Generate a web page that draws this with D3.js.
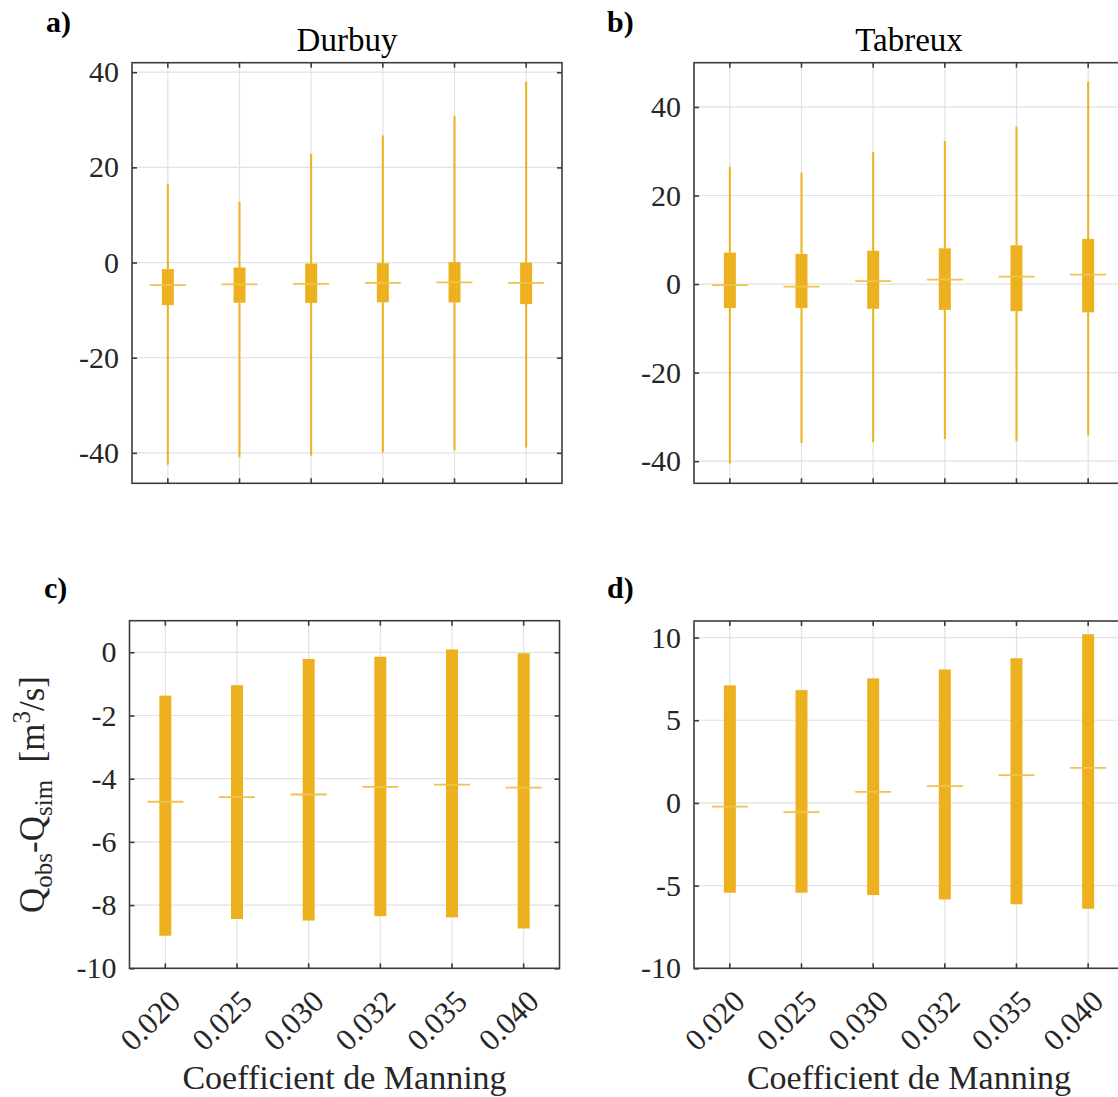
<!DOCTYPE html>
<html><head><meta charset="utf-8">
<script src="https://cdn.jsdelivr.net/npm/d3@7"></script>
<style>
body{margin:0;background:#fff}
svg{display:block}
text{font-family:'Liberation Serif','Times New Roman',serif;fill:#262626}
</style>
</head><body>
<svg id="chart" width="1118" height="1097"></svg>
<script>
// ---------- data ----------
const categories = ["0.020","0.025","0.030","0.032","0.035","0.040"];

const durbuyWhiskerHigh = [16.6, 12.8, 22.8, 26.7, 30.8, 38.0];
const durbuyQ3          = [-1.37, -1.04, -0.21, -0.14, 0.09, -0.03];
const durbuyMedian      = [-4.73, -4.58, -4.50, -4.26, -4.19, -4.28];
const durbuyQ1          = [-8.97, -8.44, -8.49, -8.35, -8.39, -8.74];
const durbuyWhiskerLow  = [-42.5, -40.9, -40.6, -39.9, -39.5, -38.9];

const tabreuxWhiskerHigh = [26.5, 25.2, 29.8, 32.3, 35.6, 45.7];
const tabreuxQ3          = [7.11, 6.82, 7.53, 8.07, 8.75, 10.2];
const tabreuxMedian      = [-0.23, -0.56, 0.67, 1.02, 1.68, 2.12];
const tabreuxQ1          = [-5.43, -5.43, -5.57, -5.84, -6.13, -6.40];
const tabreuxWhiskerLow  = [-40.5, -35.9, -35.7, -35.0, -35.5, -34.2];

const yTicksA = [-40, -20, 0, 20, 40];
const yTicksB = [-40, -20, 0, 20, 40];
const yTicksC = [-10, -8, -6, -4, -2, 0];
const yTicksD = [-10, -5, 0, 5, 10];

const panelLabels = ["a)", "b)", "c)", "d)"];
const titles = ["Durbuy", "Tabreux"];
const xAxisLabel = "Coefficient de Manning";

// ---------- build series ----------
function series(lo, q1, med, q3, hi) {
  return categories.map((c, i) => ({cat: c, lo: lo[i], q1: q1[i], med: med[i], q3: q3[i], hi: hi[i]}));
}
const durbuy = series(durbuyWhiskerLow, durbuyQ1, durbuyMedian, durbuyQ3, durbuyWhiskerHigh);
const tabreux = series(tabreuxWhiskerLow, tabreuxQ1, tabreuxMedian, tabreuxQ3, tabreuxWhiskerHigh);

const COLOR = "#EDB120";
const MEDCOLOR = "#F2C14C";
const FONT = "'Liberation Serif','Times New Roman',serif";

const panels = [
  {label: panelLabels[0], lx: 46, ly: 32, title: titles[0], left: 132, top: 62.7, bottom: 483.3, domain: [-46.4, 42], ticks: yTicksA, data: durbuy, whiskers: true, xLabels: false},
  {label: panelLabels[1], lx: 607, ly: 32, title: titles[1], left: 694, top: 62.7, bottom: 483.3, domain: [-45, 50], ticks: yTicksB, data: tabreux, whiskers: true, xLabels: false},
  {label: panelLabels[2], lx: 44, ly: 598, title: null, left: 129.5, top: 620.7, bottom: 968.3, domain: [-10, 1], ticks: yTicksC, data: durbuy, whiskers: false, xLabels: true, yLabel: true},
  {label: panelLabels[3], lx: 607, ly: 598, title: null, left: 694, top: 621, bottom: 968.3, domain: [-10, 11], ticks: yTicksD, data: tabreux, whiskers: false, xLabels: true}
];
const W = 430;

const svg = d3.select("#chart");

panels.forEach((p, pi) => {
  const x = d3.scaleBand().domain(categories).range([p.left, p.left + W]).padding(0);
  const cx = d => x(d) + x.bandwidth() / 2;
  const y = d3.scaleLinear().domain(p.domain).range([p.bottom, p.top]);
  const g = svg.append("g");

  const clipId = "clip" + pi;
  svg.append("defs").append("clipPath").attr("id", clipId)
    .append("rect").attr("x", p.left).attr("y", p.top).attr("width", W).attr("height", p.bottom - p.top);

  // grid
  const grid = g.append("g").attr("clip-path", `url(#${clipId})`);
  grid.selectAll("line.gx").data(categories).join("line")
    .attr("x1", d => cx(d)).attr("x2", d => cx(d))
    .attr("y1", p.top).attr("y2", p.bottom)
    .attr("stroke", "#e2e2e2").attr("stroke-width", 1.2);
  grid.selectAll("line.gy").data(p.ticks).join("line")
    .attr("x1", p.left).attr("x2", p.left + W)
    .attr("y1", d => y(d)).attr("y2", d => y(d))
    .attr("stroke", "#e2e2e2").attr("stroke-width", 1.2);

  // marks
  const marks = g.append("g").attr("clip-path", `url(#${clipId})`);
  if (p.whiskers) {
    marks.selectAll("line.wh").data(p.data).join("line")
      .attr("x1", d => cx(d.cat)).attr("x2", d => cx(d.cat))
      .attr("y1", d => y(d.hi)).attr("y2", d => y(d.q3))
      .attr("stroke", COLOR).attr("stroke-width", 2);
    marks.selectAll("line.wl").data(p.data).join("line")
      .attr("x1", d => cx(d.cat)).attr("x2", d => cx(d.cat))
      .attr("y1", d => y(d.q1)).attr("y2", d => y(d.lo))
      .attr("stroke", COLOR).attr("stroke-width", 2);
  }
  marks.selectAll("rect.box").data(p.data).join("rect")
    .attr("x", d => cx(d.cat) - 6).attr("width", 12)
    .attr("y", d => y(d.q3)).attr("height", d => y(d.q1) - y(d.q3))
    .attr("fill", COLOR);
  marks.selectAll("line.med").data(p.data).join("line")
    .attr("x1", d => cx(d.cat) - 18).attr("x2", d => cx(d.cat) + 18)
    .attr("y1", d => y(d.med)).attr("y2", d => y(d.med))
    .attr("stroke", MEDCOLOR).attr("stroke-width", 1.8);

  // axes (ticks inside, mirrored)
  const axL = d3.axisLeft(y).tickValues(p.ticks).tickSize(-5).tickPadding(13).tickFormat(d => String(d));
  const axR = d3.axisRight(y).tickValues(p.ticks).tickSize(-5).tickFormat("");
  const axB = d3.axisBottom(x).tickSize(-5).tickFormat("");
  const axT = d3.axisTop(x).tickSize(-5).tickFormat("");
  const styleAx = sel => {
    sel.attr("font-family", null).attr("font-size", null);
    sel.select(".domain").remove();
    sel.selectAll(".tick line").attr("stroke", "#3c3c3c").attr("stroke-width", 1.6);
    sel.selectAll(".tick text").style("font-size", "30px").style("fill", "#262626")
      .style("font-family", FONT);
  };
  g.append("g").attr("transform", `translate(${p.left},0)`).call(axL).call(styleAx);
  g.append("g").attr("transform", `translate(${p.left + W},0)`).call(axR).call(styleAx);
  g.append("g").attr("transform", `translate(0,${p.bottom})`).call(axB).call(styleAx);
  g.append("g").attr("transform", `translate(0,${p.top})`).call(axT).call(styleAx);

  // border
  g.append("rect").attr("x", p.left).attr("y", p.top).attr("width", W).attr("height", p.bottom - p.top)
    .attr("fill", "none").attr("stroke", "#3c3c3c").attr("stroke-width", 1.6);

  // panel label
  svg.append("text").attr("x", p.lx).attr("y", p.ly).style("font-size", "30px").style("font-weight", "bold")
    .style("fill", "#000").text(p.label);

  if (p.title) {
    svg.append("text").attr("x", p.left + W / 2).attr("y", 51).attr("text-anchor", "middle")
      .style("font-size", "33px").style("fill", "#000").text(p.title);
  }

  if (p.xLabels) {
    g.selectAll("text.xl").data(categories).join("text")
      .attr("transform", d => `translate(${cx(d) + 17},${p.bottom + 35}) rotate(-45)`)
      .attr("text-anchor", "end").style("font-size", "31px").style("font-family", FONT).text(d => d);
    svg.append("text").attr("x", p.left + W / 2).attr("y", 1089).attr("text-anchor", "middle")
      .style("font-size", "34px").text(xAxisLabel);
  }

  if (p.yLabel) {
    const t = svg.append("text")
      .attr("transform", `translate(44,${(p.top + p.bottom) / 2}) rotate(-90)`)
      .attr("text-anchor", "middle").style("font-size", "35px").style("white-space", "pre");
    t.append("tspan").text("Q");
    t.append("tspan").style("font-size", "25px").attr("dy", 8).text("obs");
    t.append("tspan").attr("dy", -8).text("-Q");
    t.append("tspan").style("font-size", "25px").attr("dy", 8).text("sim");
    t.append("tspan").attr("dy", -8).text("  [m");
    t.append("tspan").style("font-size", "25px").attr("dy", -14).text("3");
    t.append("tspan").attr("dy", 14).text("/s]");
  }
});
</script>
</body></html>
